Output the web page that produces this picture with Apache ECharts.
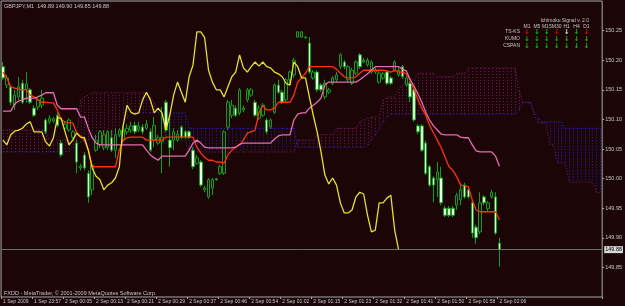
<!DOCTYPE html>
<html>
<head>
<meta charset="utf-8">
<script src="https://cdn.jsdelivr.net/npm/echarts@6/dist/echarts.min.js"></script>
<style>
  html, body { margin: 0; padding: 0; background: #1b0507; }
  #chart { width: 625px; height: 306px; }
</style>
</head>
<body>
<div id="chart"></div>
<script>
  // tick labels under the time axis, one every 8 bars
  const timeLabels = ['1 Sep 2009', '1 Sep 23:57', '2 Sep 00:05', '2 Sep 00:13', '2 Sep 00:21', '2 Sep 00:29',
    '2 Sep 00:37', '2 Sep 00:46', '2 Sep 00:54', '2 Sep 01:02', '2 Sep 01:15', '2 Sep 01:23', '2 Sep 01:32',
    '2 Sep 01:41', '2 Sep 01:50', '2 Sep 01:58', '2 Sep 02:06']

  // GBPJPY M1 bars
  const opens = [
    150.189, 150.158, 150.155, 150.124, 150.138, 150.161, 150.151, 150.150, 150.119, 150.121,
    150.124, 150.099, 150.096, 150.097, 150.107, 150.060, 150.085, 150.082, 150.070, 150.060,
    150.018, 150.040, 150.009, 149.981, 150.048, 150.057, 150.052, 150.053, 150.069, 150.048,
    150.074, 150.065, 150.079, 150.082, 150.090, 150.082, 150.087, 150.085, 150.079, 150.065,
    150.060, 150.062, 150.129, 150.065, 150.065, 150.065, 150.087, 150.079, 150.079, 150.048,
    150.026, 150.028, 149.981, 149.969, 149.984, 149.998, 150.009, 150.009, 150.087, 150.107,
    150.119, 150.111, 150.116, 150.133, 150.141, 150.129, 150.102, 150.107, 150.099, 150.087,
    150.112, 150.158, 150.146, 150.133, 150.167, 150.175, 150.239, 150.239, 150.238, 150.229,
    150.170, 150.180, 150.158, 150.138, 150.146, 150.161, 150.167, 150.189, 150.197, 150.167,
    150.161, 150.178, 150.209, 150.197, 150.192, 150.180, 150.180, 150.163, 150.170, 150.180,
    150.170, 150.183, 150.175, 150.189, 150.158, 150.161, 150.150, 150.089, 150.089, 150.060,
    150.020, 150.001, 149.998, 150.001, 149.950, 149.950, 149.950, 149.955, 149.964, 149.989,
    149.981, 149.959, 149.918, 149.910, 149.969, 149.949, 149.969, 149.969, 149.891]
  const closes = [
    150.170, 150.170, 150.129, 150.141, 150.155, 150.129, 150.160, 150.129, 150.107, 150.133,
    150.136, 150.079, 150.102, 150.101, 150.090, 150.040, 150.092, 150.099, 150.079, 150.028,
    150.021, 150.018, 149.969, 150.023, 150.065, 150.079, 150.074, 150.079, 150.048, 150.074,
    150.082, 150.082, 150.085, 150.089, 150.079, 150.089, 150.079, 150.092, 150.048, 150.090,
    150.069, 150.070, 150.082, 150.052, 150.079, 150.075, 150.070, 150.070, 150.070, 150.020,
    150.035, 149.989, 149.984, 149.998, 149.998, 150.000, 150.020, 150.079, 150.129, 150.124,
    150.107, 150.150, 150.119, 150.150, 150.150, 150.107, 150.119, 150.124, 150.079, 150.099,
    150.158, 150.146, 150.129, 150.167, 150.180, 150.200, 150.248, 150.248, 150.239, 150.180,
    150.180, 150.150, 150.150, 150.161, 150.150, 150.170, 150.175, 150.209, 150.189, 150.189,
    150.183, 150.197, 150.189, 150.200, 150.200, 150.197, 150.183, 150.178, 150.177, 150.161,
    150.161, 150.197, 150.183, 150.172, 150.170, 150.138, 150.099, 150.079, 150.048, 150.009,
    149.989, 149.989, 150.011, 149.959, 149.938, 149.938, 149.938, 149.972, 149.981, 149.969,
    149.969, 149.908, 149.900, 149.959, 149.959, 149.959, 149.977, 149.908, 149.880]
  const highs = [
    150.197, 150.175, 150.158, 150.150, 150.172, 150.167, 150.180, 150.153, 150.124, 150.136,
    150.150, 150.102, 150.107, 150.104, 150.112, 150.065, 150.096, 150.102, 150.082, 150.065,
    150.025, 150.045, 150.014, 150.023, 150.074, 150.082, 150.082, 150.082, 150.082, 150.085,
    150.085, 150.089, 150.092, 150.096, 150.096, 150.096, 150.092, 150.099, 150.085, 150.104,
    150.074, 150.121, 150.133, 150.104, 150.085, 150.082, 150.090, 150.082, 150.082, 150.053,
    150.040, 150.031, 149.988, 150.001, 150.001, 150.001, 150.023, 150.082, 150.133, 150.133,
    150.124, 150.153, 150.123, 150.153, 150.153, 150.133, 150.124, 150.128, 150.102, 150.102,
    150.161, 150.167, 150.150, 150.170, 150.183, 150.204, 150.249, 150.249, 150.241, 150.239,
    150.183, 150.183, 150.161, 150.167, 150.153, 150.173, 150.180, 150.212, 150.200, 150.192,
    150.187, 150.200, 150.212, 150.204, 150.204, 150.200, 150.187, 150.182, 150.180, 150.183,
    150.173, 150.200, 150.187, 150.192, 150.173, 150.165, 150.153, 150.092, 150.092, 150.064,
    150.023, 150.004, 150.028, 150.020, 149.954, 149.954, 149.954, 149.976, 149.989, 149.993,
    149.984, 149.962, 149.922, 149.977, 149.972, 149.962, 149.981, 149.977, 149.900]
  const lows = [
    150.167, 150.153, 150.124, 150.116, 150.133, 150.126, 150.128, 150.126, 150.104, 150.116,
    150.119, 150.075, 150.092, 150.094, 150.087, 150.036, 150.082, 150.079, 150.067, 150.009,
    150.014, 150.014, 149.959, 149.972, 150.045, 150.052, 150.048, 150.048, 150.045, 150.035,
    150.070, 150.060, 150.074, 150.077, 150.075, 150.079, 150.075, 150.082, 150.045, 150.053,
    150.057, 150.009, 150.079, 150.020, 150.048, 150.062, 150.067, 150.067, 150.067, 150.016,
    150.023, 149.986, 149.977, 149.966, 149.972, 149.996, 150.006, 150.006, 150.082, 150.102,
    150.104, 150.107, 150.112, 150.129, 150.138, 150.104, 150.099, 150.104, 150.075, 150.084,
    150.109, 150.143, 150.126, 150.129, 150.160, 150.170, 150.238, 150.238, 150.236, 150.177,
    150.167, 150.146, 150.146, 150.134, 150.143, 150.158, 150.163, 150.185, 150.185, 150.163,
    150.158, 150.175, 150.185, 150.195, 150.189, 150.177, 150.177, 150.160, 150.167, 150.158,
    150.158, 150.180, 150.172, 150.168, 150.155, 150.129, 150.096, 150.075, 150.045, 150.006,
    149.986, 149.960, 149.969, 149.955, 149.935, 149.935, 149.935, 149.947, 149.955, 149.966,
    149.966, 149.900, 149.890, 149.906, 149.955, 149.945, 149.966, 149.905, 149.851]

  // Ichimoku lines
  const tenkan = [
    150.180, 150.170, 150.155, 150.153, 150.151, 150.150, 150.150, 150.141, 150.138, 150.133,
    150.129, 150.129, 150.128, 150.128, 150.116, 150.099, 150.096, 150.094, 150.094, 150.077,
    150.072, 150.065, 150.048, 150.020, 150.020, 150.020, 150.020, 150.020, 150.020, 150.020,
    150.048, 150.065, 150.069, 150.070, 150.070, 150.070, 150.070, 150.065, 150.065, 150.065,
    150.065, 150.065, 150.070, 150.070, 150.070, 150.070, 150.070, 150.070, 150.070, 150.070,
    150.053, 150.043, 150.036, 150.031, 150.031, 150.028, 150.028, 150.026, 150.040, 150.048,
    150.053, 150.057, 150.065, 150.077, 150.079, 150.082, 150.112, 150.123, 150.116, 150.116,
    150.119, 150.129, 150.129, 150.129, 150.129, 150.141, 150.163, 150.170, 150.178, 150.189,
    150.189, 150.189, 150.189, 150.189, 150.189, 150.189, 150.185, 150.178, 150.172, 150.170,
    150.170, 150.172, 150.178, 150.183, 150.183, 150.183, 150.183, 150.183, 150.183, 150.182,
    150.180, 150.183, 150.180, 150.180, 150.177, 150.167, 150.150, 150.133, 150.119, 150.107,
    150.090, 150.077, 150.065, 150.052, 150.036, 150.020, 150.014, 150.003, 149.989, 149.988,
    149.986, 149.964, 149.947, 149.944, 149.944, 149.944, 149.944, 149.944, 149.930]
  const kijun = [
    150.114, 150.114, 150.114, 150.126, 150.131, 150.133, 150.136, 150.136, 150.136, 150.138,
    150.141, 150.145, 150.145, 150.145, 150.124, 150.118, 150.118, 150.118, 150.118, 150.118,
    150.104, 150.104, 150.085, 150.069, 150.060, 150.057, 150.057, 150.057, 150.057, 150.057,
    150.057, 150.057, 150.057, 150.057, 150.057, 150.057, 150.057, 150.048, 150.040, 150.035,
    150.031, 150.038, 150.038, 150.038, 150.038, 150.038, 150.038, 150.038, 150.048, 150.060,
    150.065, 150.060, 150.053, 150.052, 150.052, 150.052, 150.052, 150.052, 150.052, 150.052,
    150.053, 150.058, 150.060, 150.060, 150.060, 150.060, 150.060, 150.060, 150.060, 150.060,
    150.067, 150.072, 150.074, 150.074, 150.074, 150.099, 150.109, 150.111, 150.111, 150.119,
    150.124, 150.129, 150.136, 150.158, 150.163, 150.163, 150.163, 150.163, 150.163, 150.163,
    150.163, 150.163, 150.167, 150.172, 150.177, 150.183, 150.189, 150.189, 150.189, 150.189,
    150.189, 150.189, 150.189, 150.185, 150.182, 150.167, 150.156, 150.143, 150.129, 150.112,
    150.099, 150.089, 150.082, 150.075, 150.074, 150.074, 150.074, 150.074, 150.070, 150.069,
    150.069, 150.057, 150.047, 150.045, 150.045, 150.045, 150.045, 150.038, 150.021]
  const chikou = [
    150.065, 150.057, 150.074, 150.080, 150.082, 150.085, 150.092, 150.096, 150.079, 150.079,
    150.079, 150.062, 150.055, 150.069, 150.102, 150.102, 150.079, 150.057, 150.065, 150.077,
    150.070, 150.069, 150.048, 150.018, 150.004, 149.998, 149.981, 149.989, 149.993, 150.001,
    150.020, 150.090, 150.124, 150.112, 150.109, 150.111, 150.133, 150.146, 150.133, 150.111,
    150.119, 150.111, 150.082, 150.107, 150.141, 150.163, 150.146, 150.129, 150.172, 150.192,
    150.248, 150.248, 150.238, 150.183, 150.163, 150.150, 150.150, 150.138, 150.155, 150.172,
    150.180, 150.209, 150.187, 150.180, 150.189, 150.197, 150.190, 150.197, 150.189, 150.187,
    150.180, 150.177, 150.172, 150.161, 150.158, 150.197, 150.189, 150.170, 150.170, 150.138,
    150.107, 150.079, 150.045, 150.006, 149.991, 150.001, 149.989, 149.959, 149.942, 149.942,
    149.947, 149.969, 149.977, 149.974, 149.938, 149.910, 149.913, 149.959, 149.959, 149.967,
    149.972, 149.913, 149.880]
  const spanA = [
    150.045, 150.045, 150.045, 150.045, 150.045, 150.045, 150.045, 150.045, 150.045, 150.045,
    150.045, 150.045, 150.045, 150.045, 150.045, 150.045, 150.045, 150.045, 150.052, 150.057,
    150.062, 150.065, 150.065, 150.070, 150.070, 150.070, 150.070, 150.074, 150.074, 150.074,
    150.074, 150.090, 150.102, 150.111, 150.111, 150.111, 150.111, 150.111, 150.111, 150.111,
    150.111, 150.111, 150.111, 150.111, 150.111, 150.111, 150.111, 150.111, 150.085, 150.085,
    150.085, 150.085, 150.085, 150.085, 150.085, 150.085, 150.085, 150.085, 150.085, 150.085,
    150.085, 150.085, 150.085, 150.085, 150.085, 150.085, 150.085, 150.085, 150.085, 150.085,
    150.085, 150.085, 150.085, 150.085, 150.085, 150.085, 150.053, 150.053, 150.053, 150.053,
    150.053, 150.053, 150.053, 150.053, 150.053, 150.053, 150.053, 150.053, 150.053, 150.053,
    150.053, 150.053, 150.053, 150.053, 150.057, 150.065, 150.074, 150.085, 150.096, 150.104,
    150.109, 150.109, 150.109, 150.109, 150.109, 150.109, 150.109, 150.109, 150.109, 150.109,
    150.109, 150.109, 150.109, 150.109, 150.109, 150.109, 150.109, 150.109, 150.109, 150.109,
    150.109, 150.109, 150.109, 150.109, 150.109, 150.109, 150.109, 150.109, 150.109, 150.109,
    150.109, 150.109, 150.109, 150.116, 150.128, 150.128, 150.128, 150.112, 150.102, 150.096,
    150.096, 150.096, 150.096, 150.096, 150.096, 150.085, 150.085, 150.085, 150.085, 150.085,
    150.085, 150.085, 150.085, 150.085, 150.085]
  const spanB = [
    150.082, 150.082, 150.082, 150.082, 150.082, 150.082, 150.082, 150.082, 150.082, 150.082,
    150.082, 150.082, 150.065, 150.065, 150.065, 150.065, 150.065, 150.065, 150.065, 150.065,
    150.133, 150.138, 150.141, 150.145, 150.145, 150.145, 150.145, 150.145, 150.145, 150.145,
    150.145, 150.145, 150.145, 150.145, 150.145, 150.145, 150.145, 150.145, 150.138, 150.128,
    150.116, 150.111, 150.065, 150.065, 150.065, 150.065, 150.065, 150.065, 150.045, 150.045,
    150.045, 150.045, 150.045, 150.045, 150.045, 150.045, 150.045, 150.045, 150.045, 150.045,
    150.045, 150.045, 150.045, 150.045, 150.045, 150.045, 150.045, 150.045, 150.045, 150.045,
    150.045, 150.045, 150.045, 150.045, 150.045, 150.045, 150.065, 150.065, 150.065, 150.065,
    150.065, 150.074, 150.074, 150.074, 150.074, 150.074, 150.085, 150.085, 150.085, 150.085,
    150.085, 150.085, 150.096, 150.099, 150.102, 150.104, 150.104, 150.104, 150.133, 150.138,
    150.138, 150.138, 150.150, 150.158, 150.167, 150.167, 150.167, 150.178, 150.178, 150.178,
    150.178, 150.178, 150.172, 150.172, 150.172, 150.172, 150.172, 150.178, 150.178, 150.178,
    150.187, 150.187, 150.187, 150.187, 150.187, 150.187, 150.187, 150.187, 150.187, 150.187,
    150.187, 150.187, 150.187, 150.150, 150.129, 150.129, 150.129, 150.107, 150.094, 150.094,
    150.094, 150.057, 150.057, 150.026, 150.026, 150.026, 149.994, 149.994, 149.994, 149.994,
    149.994, 149.994, 149.994, 149.976, 149.976]

  // signal panel in the corner
  const sigFrames = ['M1', 'M5', 'M15', 'M30', 'H1', 'H4', 'D1']
  const sigRows = ['TS-KS', 'KUMO', 'CSPAN']
  const sigColors = [
    ['#e00000', '#00c000', '#00c000', '#e00000', '#d8d8d8', '#00c000', '#e00000'],
    ['#00c000', '#00c000', '#00c000', '#00c000', '#00c000', '#00c000', '#00c000'],
    ['#00c000', '#00c000', '#00c000', '#00c000', '#00c000', '#00c000', '#00c000']
  ]

  const FONT = '"Liberation Sans Narrow", "Liberation Sans", sans-serif'
  const TXT = '#c8c8c8'
  const lastClose = closes[closes.length - 1]
  const cats = spanA.map((v, i) => String(i))
  const candles = opens.map((o, i) => [o, closes[i], lows[i], highs[i]])
  const cloud = spanA.map((a, i) => [i, a, spanB[i]])
  const showTick = (i) => i % 8 === 0 && i / 8 < timeLabels.length

  const graphics = [
    { type: 'text', left: 4, top: 3, style: { text: 'GBPJPY,M1  149.89 149.90 149.85 149.88', fill: TXT, font: '5.5px ' + FONT } },
    { type: 'text', left: 4, top: 290, style: { text: 'FXDD - MetaTrader, \u00a9 2001-2009 MetaQuotes Software Corp.', fill: TXT, font: '5.5px ' + FONT } },
    { type: 'text', style: { text: 'Ichimoku Signal v. 2.0', x: 589, y: 21, textAlign: 'right', textVerticalAlign: 'middle', fill: TXT, font: '5px ' + FONT } }
  ]
  sigFrames.forEach((f, k) => {
    graphics.push({ type: 'text', style: { text: f, x: 527 + k * 9.9, y: 26.5, textAlign: 'center', textVerticalAlign: 'middle', fill: TXT, font: '5px ' + FONT } })
  })
  sigRows.forEach((r, j) => {
    graphics.push({ type: 'text', style: { text: r, x: 520, y: 32 + j * 7, textAlign: 'right', textVerticalAlign: 'middle', fill: TXT, font: '5px ' + FONT } })
    sigColors[j].forEach((c, k) => {
      graphics.push({ type: 'text', style: { text: '\u2193', x: 527 + k * 9.9, y: 32 + j * 7, textAlign: 'center', textVerticalAlign: 'middle', fill: c, font: 'bold 7px "DejaVu Sans"' } })
    })
  })

  const chart = echarts.init(document.getElementById('chart'))
  chart.setOption({
    animation: false,
    backgroundColor: '#1b0507',
    grid: { left: 1, right: 19, top: 1, bottom: 9, show: true, borderColor: '#a8a8a8', borderWidth: 1 },
    xAxis: {
      type: 'category',
      data: cats,
      boundaryGap: true,
      axisLine: { show: false },
      axisTick: { show: true, interval: showTick, length: 2, lineStyle: { color: '#a8a8a8' } },
      axisLabel: {
        interval: showTick,
        formatter: (v) => timeLabels[Number(v) / 8],
        align: 'left',
        margin: 2,
        color: TXT,
        fontSize: 5,
        fontFamily: FONT
      },
      splitLine: { show: false }
    },
    yAxis: {
      type: 'value',
      position: 'right',
      min: 149.80,
      max: 150.30,
      interval: 0.05,
      scale: true,
      axisLine: { show: false },
      axisTick: { show: true, length: 2, lineStyle: { color: '#a8a8a8' } },
      axisLabel: {
        showMinLabel: false,
        showMaxLabel: false,
        formatter: (v) => v.toFixed(2),
        margin: 3,
        color: TXT,
        fontSize: 5.5,
        fontFamily: FONT
      },
      splitLine: { show: false }
    },
    graphic: graphics,
    series: [
      {
        // kumo, drawn like MT4 dotted histogram between span A and span B
        type: 'custom',
        data: cloud,
        z: 1,
        silent: true,
        encode: { x: 0, y: [1, 2] },
        renderItem: (params, api) => {
          const a = api.value(1), b = api.value(2)
          const p1 = api.coord([api.value(0), a])
          const p2 = api.coord([api.value(0), b])
          const x = Math.round(p1[0]) + 0.5
          return {
            type: 'line',
            shape: { x1: x, y1: p1[1], x2: x, y2: p2[1] },
            style: { stroke: a >= b ? '#2424b8' : '#761668', lineWidth: 1, lineDash: [1, 2] }
          }
        }
      },
      {
        name: 'Senkou A', type: 'line', data: spanA, showSymbol: false, z: 2, silent: true,
        lineStyle: { color: '#2626d6', width: 1, type: [1, 2] }
      },
      {
        name: 'Senkou B', type: 'line', data: spanB, showSymbol: false, z: 2, silent: true,
        lineStyle: { color: '#8c1a7c', width: 1, type: [1, 2] }
      },
      {
        name: 'GBPJPY', type: 'candlestick', data: candles, z: 3, barWidth: 3,
        itemStyle: { color: '#1b0507', color0: '#e8ffe8', borderColor: '#0ea00e', borderColor0: '#0ea00e', borderWidth: 1 },
        markLine: {
          symbol: 'none', silent: true,
          data: [{ yAxis: lastClose }],
          lineStyle: { color: '#6e6e6e', type: 'solid', width: 1 },
          label: {
            position: 'end', formatter: (p) => p.value.toFixed(2), color: '#000', backgroundColor: '#d8d8d8',
            fontSize: 5.5, fontFamily: FONT, padding: [1, 1, 0, 1], distance: 2
          }
        }
      },
      {
        name: 'Tenkan', type: 'line', data: tenkan, showSymbol: false, z: 4, silent: true,
        lineStyle: { color: '#ff3300', width: 1.3 }
      },
      {
        name: 'Kijun', type: 'line', data: kijun, showSymbol: false, z: 4, silent: true,
        lineStyle: { color: '#e46cb4', width: 1.3 }
      },
      {
        name: 'Chikou', type: 'line', data: chikou, showSymbol: false, z: 4, silent: true,
        lineStyle: { color: '#e8e020', width: 1.3 }
      }
    ]
  })
</script>
</body>
</html>
